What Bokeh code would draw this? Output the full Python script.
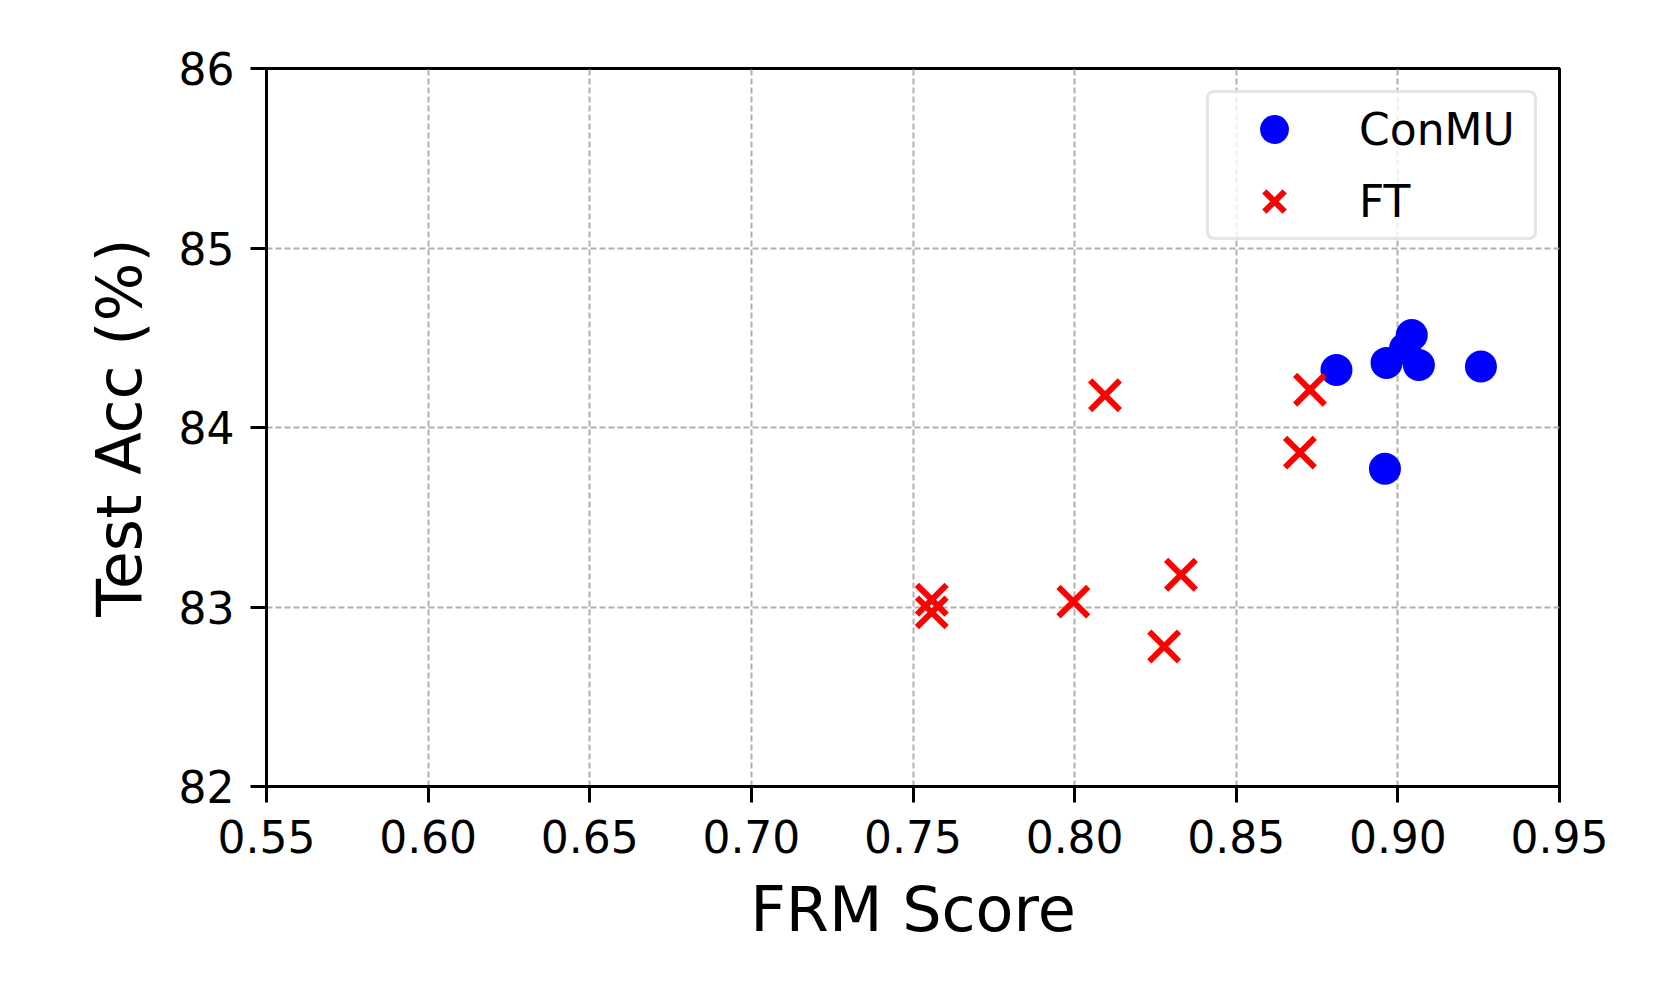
from bokeh.plotting import figure
from bokeh.models import FixedTicker, PrintfTickFormatter, Legend, LegendItem
from bokeh.embed import file_html
from bokeh.resources import INLINE

conmu_frm = [0.881, 0.8965, 0.9022, 0.9043, 0.9065, 0.9257, 0.896]
conmu_acc = [84.32, 84.36, 84.44, 84.515, 84.348, 84.34, 83.77]
ft_frm = [0.8728, 0.8697, 0.8094, 0.7558, 0.7558, 0.7996, 0.8329, 0.8277]
ft_acc = [84.21, 83.86, 84.18, 83.04, 82.97, 83.03, 83.18, 82.78]
x_ticks = [0.55, 0.60, 0.65, 0.70, 0.75, 0.80, 0.85, 0.90, 0.95]
y_ticks = [82, 83, 84, 85, 86]

FONT = "DejaVu Sans"

p = figure(width=1645, height=981, output_backend="svg", toolbar_location=None,
           x_range=(0.55, 0.95), y_range=(82, 86),
           frame_width=1293, frame_height=718,
           min_border_left=266, min_border_right=86, min_border_top=68, min_border_bottom=195,
           x_axis_label="FRM Score", y_axis_label="Test Acc (%)")
p.outline_line_color = "black"
p.outline_line_width = 3
p.background_fill_color = "white"
p.border_fill_color = "white"

for ax in (p.xaxis[0], p.yaxis[0]):
    ax.axis_line_width = 3
    ax.major_tick_line_width = 3
    ax.major_tick_out = 16
    ax.major_tick_in = 0
    ax.minor_tick_line_color = None
    ax.major_label_text_font = FONT
    ax.major_label_text_font_size = "44px"
    ax.major_label_text_color = "black"
    ax.axis_label_text_font = FONT
    ax.axis_label_text_font_size = "62px"
    ax.axis_label_text_font_style = "normal"
    ax.axis_label_text_color = "black"

p.xaxis.ticker = FixedTicker(ticks=x_ticks)
p.xaxis.formatter = PrintfTickFormatter(format="%.2f")
p.yaxis.ticker = FixedTicker(ticks=y_ticks)
p.xaxis.major_label_standoff = 17
p.yaxis.major_label_standoff = 16
p.xaxis.axis_label_standoff = 17
p.yaxis.axis_label_standoff = 20

for g in (p.xgrid[0], p.ygrid[0]):
    g.grid_line_color = "#b0b0b0"
    g.grid_line_width = 2
    g.grid_line_dash = "6 3"

r1 = p.scatter(conmu_frm, conmu_acc, marker="circle", size=32,
               fill_color="#0000ff", line_color="#0000ff", line_width=0)
r2 = p.scatter(ft_frm, ft_acc, marker="x", size=42,
               line_color="#ff0000", line_width=6)

legend = Legend(items=[LegendItem(label="ConMU", renderers=[r1]),
                       LegendItem(label="FT", renderers=[r2])],
                location="top_right")
legend.margin = 22
legend.padding = 0
legend.spacing = 0
legend.glyph_width = 130
legend.glyph_height = 72
legend.label_height = 72
legend.label_width = 175
legend.label_standoff = 20
legend.label_text_font = FONT
legend.label_text_font_size = "44px"
legend.label_text_color = "black"
legend.border_line_color = "#cccccc"
legend.border_line_width = 3
legend.background_fill_alpha = 0.8
try:
    legend.border_radius = 8
except Exception:
    pass
p.add_layout(legend)

open("out.html", "w").write(file_html(p, INLINE))
